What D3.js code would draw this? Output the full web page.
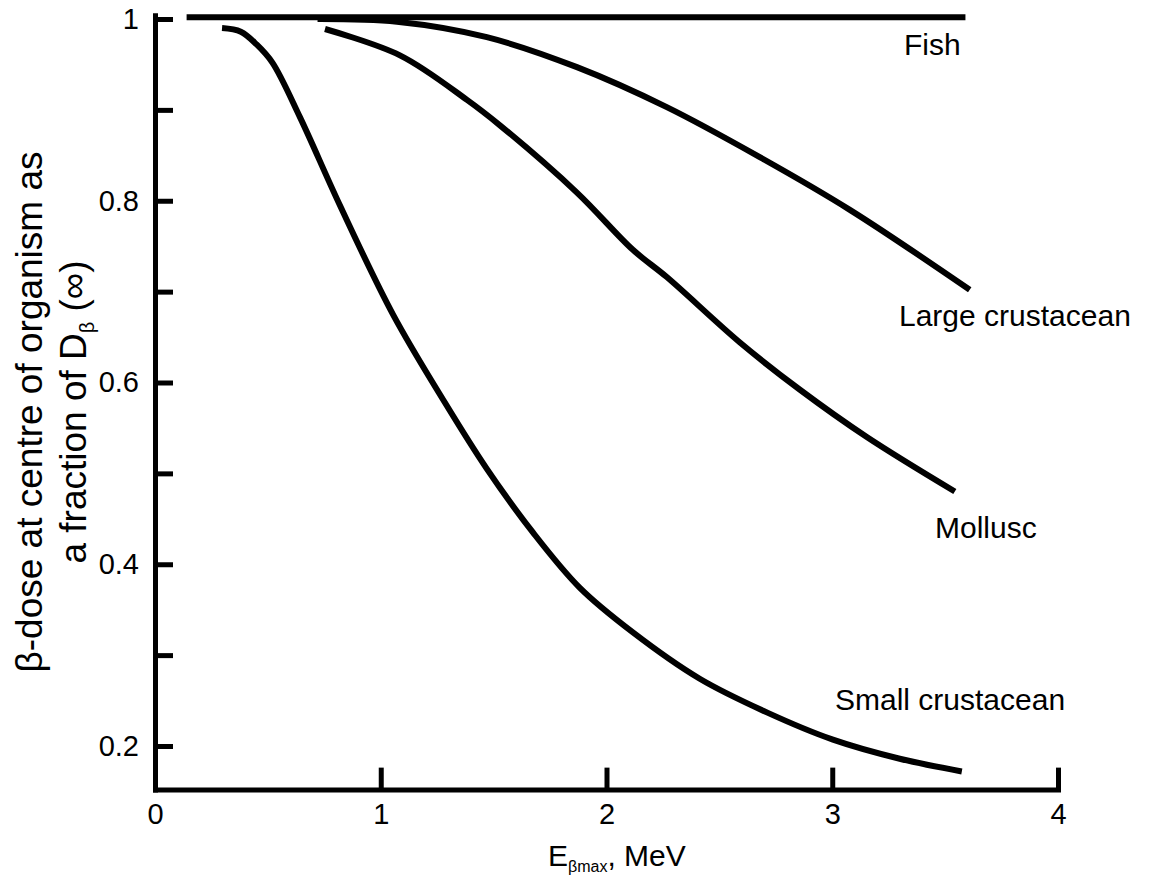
<!DOCTYPE html>
<html>
<head>
<meta charset="utf-8">
<script src="https://cdn.jsdelivr.net/npm/d3@7"></script>
<style>
  html, body { margin: 0; padding: 0; background: #fff; }
  svg { display: block; }
  text { font-family: "Liberation Sans", Arial, Helvetica, sans-serif; fill: #000; }
</style>
</head>
<body>
<svg id="chart" width="1155" height="880"></svg>
<script>
// Beta-dose at the centre of an organism as a fraction of the infinite-medium dose
// Each series: [E_beta_max (MeV), fraction]
const fish = [[0.14, 1.002], [1.0, 1.002], [2.0, 1.002], [3.0, 1.002], [3.59, 1.002]];
const largeCrustacean = [
  [0.72, 1.0], [1.072, 0.997], [1.47, 0.98], [1.869, 0.947], [2.267, 0.903],
  [2.679, 0.848], [3.078, 0.79], [3.609, 0.702]
];
const mollusc = [
  [0.753, 0.989], [1.085, 0.96], [1.382, 0.911], [1.528, 0.883], [1.869, 0.809],
  [2.117, 0.746], [2.267, 0.716], [2.591, 0.644], [2.857, 0.592], [3.153, 0.54],
  [3.543, 0.48]
];
const smallCrustacean = [
  [0.297, 0.99], [0.38, 0.986], [0.45, 0.972], [0.52, 0.952], [0.642, 0.892],
  [0.819, 0.795], [1.054, 0.675], [1.284, 0.578], [1.47, 0.505], [1.674, 0.435],
  [1.882, 0.374], [2.117, 0.325], [2.413, 0.274], [2.71, 0.237], [3.003, 0.207],
  [3.299, 0.186], [3.574, 0.172]
];
const seriesNames = ["Fish", "Large crustacean", "Mollusc", "Small crustacean"];
const xTicks = [0, 1, 2, 3, 4];
const yTicks = [0.2, 0.3, 0.4, 0.5, 0.6, 0.7, 0.8, 0.9, 1.0];
const yLabelled = [0.2, 0.4, 0.6, 0.8, 1.0];
const yBottom = 0.152, yTop = 1.004;

const svg = d3.select("#chart");
const x = d3.scaleLinear().domain([0, 4]).range([155, 1058]);
const y = d3.scaleLinear().domain([0.2, 1]).range([746, 19]);

// Axes: ticks point inward, labels outside
const yAxisScale = d3.scaleLinear().domain([yBottom, yTop]).range([y(yBottom), y(yTop)]);
const yAxis = d3.axisLeft(yAxisScale)
  .tickValues(yTicks)
  .tickSizeInner(-18).tickSizeOuter(0).tickPadding(16)
  .tickFormat(v => yLabelled.some(l => Math.abs(l - v) < 1e-9) ? (v === 1 ? "1" : v.toFixed(1)) : "");
const gy = svg.append("g").attr("transform", `translate(${x(0)},0)`).call(yAxis);

const xAxis = d3.axisBottom(x)
  .tickValues(xTicks)
  .tickSizeInner(-22).tickSizeOuter(0).tickPadding(14)
  .tickFormat(d3.format("d"));
const gx = svg.append("g").attr("transform", `translate(0,${y(yBottom)})`).call(xAxis);

[gx, gy].forEach(g => {
  g.select(".domain").attr("stroke", "#000").attr("stroke-width", 5).attr("stroke-linecap", "square");
  g.selectAll(".tick line").attr("stroke", "#000").attr("stroke-width", 5);
  g.selectAll(".tick text").attr("font-size", 29).attr("font-family", null).attr("fill", "#000");
});
gx.selectAll(".tick").filter(d => d === 0).select("line").remove();

// Curves
const line = d3.line().x(d => x(d[0])).y(d => y(d[1])).curve(d3.curveCatmullRom.alpha(0.5));
const allSeries = [fish, largeCrustacean, mollusc, smallCrustacean];
svg.append("g").selectAll("path").data(allSeries).join("path")
  .attr("d", line)
  .attr("fill", "none")
  .attr("stroke", "#000")
  .attr("stroke-width", 6)
  .attr("stroke-linecap", "butt");

// Curve labels
const labelPos = [
  { x: 904, y: 55 },
  { x: 899, y: 326 },
  { x: 935, y: 538 },
  { x: 835, y: 710 }
];
svg.append("g").selectAll("text").data(seriesNames).join("text")
  .attr("x", (d, i) => labelPos[i].x)
  .attr("y", (d, i) => labelPos[i].y)
  .attr("font-size", 30)
  .text(d => d);

// X axis title
const xt = svg.append("text").attr("x", 548).attr("y", 866).attr("font-size", 30);
xt.append("tspan").text("E");
xt.append("tspan").attr("font-size", 16).attr("dy", 6).text("βmax");
xt.append("tspan").attr("dy", -6).text(", MeV");

// Y axis title (two lines)
svg.append("text")
  .attr("transform", "translate(42,412) rotate(-90)")
  .attr("text-anchor", "middle").attr("font-size", 37)
  .text("β-dose at centre of organism as");
const yt2 = svg.append("text")
  .attr("transform", "translate(86,412) rotate(-90)")
  .attr("text-anchor", "middle").attr("font-size", 37);
yt2.append("tspan").text("a fraction of D");
yt2.append("tspan").attr("font-size", 20).attr("dy", 8).text("β");
yt2.append("tspan").attr("dy", -8).text(" (∞)");
</script>
</body>
</html>
